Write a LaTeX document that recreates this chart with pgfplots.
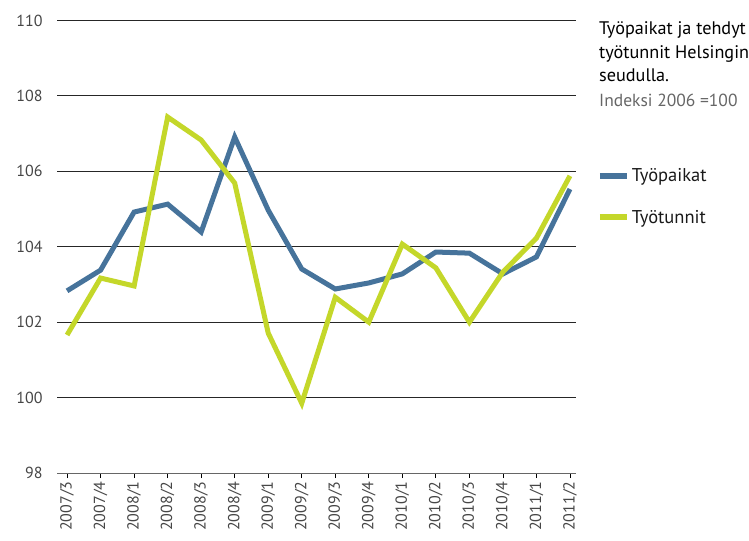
\documentclass[border=0pt]{standalone}
\usepackage{pgfplots}
\pgfplotsset{compat=1.18}
\usepackage{fontspec}
\setmainfont{PT Sans}
\definecolor{tpblue}{RGB}{70,115,155}
\definecolor{ttgreen}{RGB}{196,215,42}
\definecolor{ticktext}{RGB}{70,70,70}

\begin{document}
\begin{tikzpicture}
\useasboundingbox (0,0) rectangle (749bp,541bp);
\begin{axis}[
  at={(57bp,68bp)}, anchor=south west,
  scale only axis, width=519bp, height=452.5bp,
  xmin=-0.3, xmax=15.18, ymin=98, ymax=110,
  ytick={98,100,...,110},
  xtick={0,...,15},
  xticklabels={2007/3,2007/4,2008/1,2008/2,2008/3,2008/4,2009/1,2009/2,2009/3,2009/4,2010/1,2010/2,2010/3,2010/4,2011/1,2011/2},
  axis x line*=bottom, axis y line*=left,
  x axis line style={-, draw=black!60, line width=1bp},
  y axis line style={draw=none},
  ytick style={draw=none},
  xtick style={draw=black, line width=0.8bp},
  tick align=outside, major tick length=5bp,
  ymajorgrids,
  major grid style={black!85, line width=0.9bp},
  /pgf/number format/assume math mode=true,
  yticklabel style={font=\fontsize{16bp}{18bp}\selectfont, text=ticktext, xshift=-6bp},
  xticklabel style={rotate=90, anchor=east, font=\fontsize{16bp}{18bp}\selectfont, text=ticktext},
  legend cell align=left,
  legend style={at={(axis description cs:1.04,0.677)}, anchor=north west, draw=none, fill=none,
    font=\fontsize{18.5bp}{20bp}\selectfont, row sep=22.5bp, inner sep=0pt,
    nodes={inner sep=2bp, text=black!90}},
  legend image code/.code={\draw[#1, line width=6bp] (0bp,0bp) -- (27bp,0bp);},
]
\addplot[tpblue, line width=5bp, line join=miter] coordinates {
  (0,102.83) (1,103.38) (2,104.92) (3,105.13) (4,104.39) (5,106.91)
  (6,104.97) (7,103.41) (8,102.88) (9,103.04) (10,103.28) (11,103.86)
  (12,103.83) (13,103.28) (14,103.73) (15,105.53)
};
\addlegendentry{Työpaikat}
\addplot[ttgreen, line width=5bp, line join=miter] coordinates {
  (0,101.66) (1,103.17) (2,102.96) (3,107.44) (4,106.83) (5,105.69)
  (6,101.71) (7,99.85) (8,102.66) (9,102.0) (10,104.07) (11,103.44)
  (12,102.0) (13,103.33) (14,104.23) (15,105.88)
};
\addlegendentry{Työtunnit}
\end{axis}
\begin{scope}[every node/.style={anchor=base west, inner sep=0pt, font=\fontsize{18.2bp}{20bp}\selectfont}]
\node[text=black] at (599bp,506bp) {Työpaikat ja tehdyt};
\node[text=black] at (599bp,482.7bp) {työtunnit Helsingin};
\node[text=black] at (599bp,459.3bp) {seudulla.};
\node[text=black!60, font=\fontsize{17.5bp}{20bp}\selectfont] at (599bp,434.3bp) {Indeksi 2006 =100};
\end{scope}
\end{tikzpicture}
\end{document}
